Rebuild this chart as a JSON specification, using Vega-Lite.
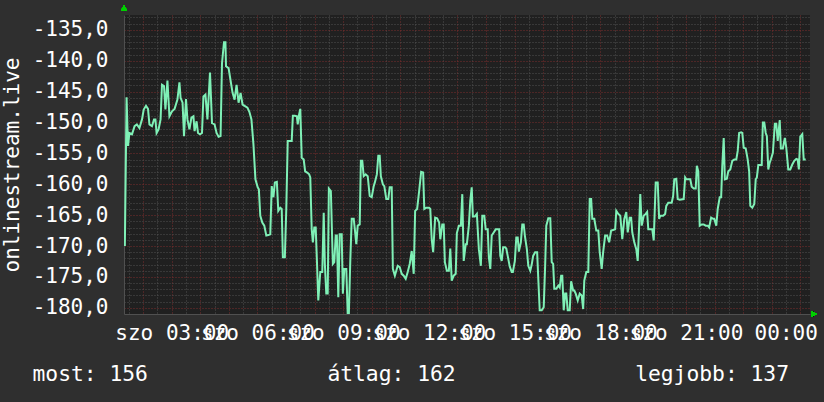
{
  "$schema": "https://vega.github.io/schema/vega-lite/v6.json",
  "width": 686,
  "height": 299,
  "autosize": "none",
  "padding": {"left": 124, "top": 15, "right": 14, "bottom": 88},
  "background": "#2f2f2f",
  "config": {
    "font": "DejaVu Sans Mono",
    "view": {"fill": "#202020", "stroke": null}
  },
  "resolve": {"axis": {"x": "independent", "y": "independent"}},
  "data": {"values": [
{"t":1.36,"v":-170.0},{"t":1.42,"v":-145.9},{"t":1.47,"v":-153.8},{"t":1.52,"v":-151.7},{"t":1.61,"v":-151.9},{"t":1.70,"v":-150.6},{"t":1.78,"v":-150.3},{"t":1.87,"v":-150.9},{"t":1.96,"v":-149.5},{"t":2.02,"v":-147.9},{"t":2.10,"v":-147.3},{"t":2.17,"v":-147.8},{"t":2.22,"v":-150.3},{"t":2.31,"v":-150.6},{"t":2.38,"v":-149.5},{"t":2.43,"v":-149.5},{"t":2.47,"v":-151.7},{"t":2.54,"v":-151.1},{"t":2.61,"v":-149.5},{"t":2.66,"v":-143.9},{"t":2.73,"v":-144.1},{"t":2.78,"v":-147.9},{"t":2.85,"v":-143.2},{"t":2.92,"v":-149.0},{"t":3.01,"v":-148.2},{"t":3.10,"v":-147.8},{"t":3.20,"v":-146.3},{"t":3.27,"v":-143.5},{"t":3.31,"v":-146.0},{"t":3.38,"v":-146.8},{"t":3.43,"v":-152.2},{"t":3.50,"v":-146.2},{"t":3.55,"v":-149.5},{"t":3.62,"v":-151.1},{"t":3.69,"v":-149.2},{"t":3.76,"v":-149.0},{"t":3.80,"v":-151.4},{"t":3.87,"v":-149.8},{"t":3.92,"v":-151.7},{"t":3.99,"v":-151.9},{"t":4.06,"v":-151.7},{"t":4.11,"v":-145.8},{"t":4.18,"v":-145.5},{"t":4.25,"v":-149.5},{"t":4.34,"v":-141.9},{"t":4.41,"v":-150.1},{"t":4.50,"v":-150.3},{"t":4.57,"v":-151.7},{"t":4.64,"v":-152.3},{"t":4.71,"v":-152.2},{"t":4.76,"v":-140.4},{"t":4.83,"v":-137.0},{"t":4.88,"v":-137.0},{"t":4.90,"v":-140.9},{"t":4.99,"v":-141.2},{"t":5.06,"v":-143.2},{"t":5.13,"v":-145.2},{"t":5.20,"v":-146.3},{"t":5.27,"v":-143.9},{"t":5.34,"v":-146.8},{"t":5.41,"v":-145.2},{"t":5.48,"v":-147.1},{"t":5.55,"v":-147.3},{"t":5.65,"v":-147.6},{"t":5.72,"v":-148.3},{"t":5.79,"v":-149.5},{"t":5.86,"v":-153.5},{"t":5.93,"v":-159.2},
{"t":6.01,"v":-160.5},{"t":6.05,"v":-160.8},{"t":6.10,"v":-165.1},{"t":6.17,"v":-166.2},{"t":6.24,"v":-166.7},{"t":6.31,"v":-168.3},{"t":6.38,"v":-168.2},{"t":6.45,"v":-168.1},{"t":6.50,"v":-160.3},{"t":6.56,"v":-162.1},{"t":6.61,"v":-159.7},{"t":6.68,"v":-159.6},{"t":6.73,"v":-164.3},{"t":6.80,"v":-163.8},{"t":6.85,"v":-164.0},{"t":6.89,"v":-171.8},{"t":6.96,"v":-171.8},{"t":7.01,"v":-164.0},{"t":7.06,"v":-153.0},{"t":7.13,"v":-153.0},{"t":7.20,"v":-153.0},{"t":7.24,"v":-148.9},{"t":7.31,"v":-148.9},{"t":7.38,"v":-149.0},{"t":7.41,"v":-150.3},{"t":7.45,"v":-148.9},{"t":7.50,"v":-147.8},{"t":7.55,"v":-155.7},{"t":7.62,"v":-156.0},{"t":7.67,"v":-157.9},{"t":7.74,"v":-158.1},{"t":7.81,"v":-158.4},{"t":7.85,"v":-158.9},{"t":7.90,"v":-167.3},{"t":7.94,"v":-169.4},{"t":7.99,"v":-167.0},{"t":8.04,"v":-167.0},{"t":8.08,"v":-172.1},{"t":8.13,"v":-178.8},{"t":8.20,"v":-174.2},{"t":8.27,"v":-174.2},{"t":8.32,"v":-164.6},{"t":8.36,"v":-172.9},{"t":8.41,"v":-177.7},{"t":8.46,"v":-177.7},{"t":8.50,"v":-160.7},{"t":8.57,"v":-161.1},{"t":8.64,"v":-172.9},{"t":8.69,"v":-172.6},{"t":8.74,"v":-168.3},{"t":8.78,"v":-168.3},{"t":8.83,"v":-178.3},{"t":8.88,"v":-168.1},{"t":8.95,"v":-168.1},{"t":8.99,"v":-177.7},{"t":9.04,"v":-173.7},{"t":9.11,"v":-173.7},{"t":9.16,"v":-181.0},{"t":9.20,"v":-181.0},{"t":9.25,"v":-172.4},{"t":9.30,"v":-165.6},{"t":9.37,"v":-165.6},{"t":9.41,"v":-167.3},{"t":9.46,"v":-169.7},{"t":9.51,"v":-166.7},{"t":9.58,"v":-166.5},{"t":9.62,"v":-156.2},{"t":9.67,"v":-156.2},{"t":9.72,"v":-158.7},{"t":9.79,"v":-158.4},{"t":9.86,"v":-158.7},{"t":9.93,"v":-161.9},{"t":10.00,"v":-162.1},{"t":10.07,"v":-160.3},{"t":10.11,"v":-159.7},{"t":10.18,"v":-158.4},{"t":10.23,"v":-155.4},{"t":10.28,"v":-155.4},{"t":10.32,"v":-158.7},{"t":10.39,"v":-160.0},{"t":10.44,"v":-160.3},{"t":10.51,"v":-162.4},{"t":10.58,"v":-162.4},{"t":10.63,"v":-160.5},{"t":10.70,"v":-160.5},{"t":10.74,"v":-173.7},
{"t":10.81,"v":-174.8},{"t":10.91,"v":-173.2},{"t":10.98,"v":-173.4},{"t":11.05,"v":-174.5},{"t":11.12,"v":-174.8},{"t":11.19,"v":-175.3},{"t":11.26,"v":-174.2},{"t":11.33,"v":-172.9},{"t":11.40,"v":-170.8},{"t":11.47,"v":-174.5},{"t":11.52,"v":-164.3},{"t":11.59,"v":-164.0},{"t":11.66,"v":-161.1},{"t":11.73,"v":-158.0},{"t":11.80,"v":-158.1},{"t":11.84,"v":-164.0},{"t":11.91,"v":-163.8},{"t":12.01,"v":-163.8},{"t":12.05,"v":-164.0},{"t":12.10,"v":-168.9},{"t":12.15,"v":-171.0},{"t":12.22,"v":-165.4},{"t":12.29,"v":-165.5},{"t":12.36,"v":-166.2},{"t":12.40,"v":-168.9},{"t":12.47,"v":-166.5},{"t":12.52,"v":-166.5},{"t":12.56,"v":-172.6},{"t":12.63,"v":-174.0},{"t":12.70,"v":-174.0},{"t":12.75,"v":-170.4},{"t":12.80,"v":-175.6},{"t":12.87,"v":-174.8},{"t":12.94,"v":-174.5},{"t":12.98,"v":-167.9},{"t":13.05,"v":-166.7},{"t":13.12,"v":-166.7},{"t":13.17,"v":-161.6},{"t":13.22,"v":-172.4},{"t":13.29,"v":-169.7},{"t":13.33,"v":-169.7},{"t":13.40,"v":-166.7},{"t":13.45,"v":-162.7},{"t":13.50,"v":-160.5},{"t":13.54,"v":-165.2},{"t":13.61,"v":-165.2},{"t":13.68,"v":-164.8},{"t":13.75,"v":-170.5},{"t":13.82,"v":-173.2},{"t":13.87,"v":-165.1},{"t":13.94,"v":-165.1},{"t":13.99,"v":-167.3},{"t":14.06,"v":-167.3},{"t":14.10,"v":-171.8},{"t":14.15,"v":-173.7},{"t":14.20,"v":-168.3},{"t":14.27,"v":-167.8},{"t":14.34,"v":-167.3},{"t":14.46,"v":-167.3},{"t":14.50,"v":-171.6},{"t":14.55,"v":-172.4},{"t":14.60,"v":-170.2},{"t":14.67,"v":-170.2},{"t":14.71,"v":-170.4},{"t":14.76,"v":-171.6},{"t":14.83,"v":-173.3},{"t":14.90,"v":-174.2},{"t":14.94,"v":-174.2},{"t":15.01,"v":-172.4},{"t":15.06,"v":-168.6},{"t":15.11,"v":-168.6},{"t":15.15,"v":-170.9},{"t":15.22,"v":-169.4},{"t":15.27,"v":-166.5},{"t":15.32,"v":-166.5},{"t":15.36,"v":-168.3},{"t":15.43,"v":-170.5},{"t":15.48,"v":-173.2},{"t":15.55,"v":-174.0},{"t":15.60,"v":-173.0},
{"t":15.65,"v":-171.6},{"t":15.72,"v":-171.0},{"t":15.79,"v":-171.0},{"t":15.83,"v":-175.3},{"t":15.88,"v":-180.4},{"t":15.95,"v":-180.4},{"t":16.02,"v":-179.9},{"t":16.07,"v":-173.2},{"t":16.11,"v":-166.7},{"t":16.18,"v":-165.5},{"t":16.25,"v":-165.5},{"t":16.30,"v":-172.6},{"t":16.35,"v":-172.9},{"t":16.39,"v":-176.9},{"t":16.46,"v":-176.9},{"t":16.53,"v":-176.4},{"t":16.58,"v":-176.7},{"t":16.63,"v":-174.8},{"t":16.67,"v":-174.8},{"t":16.72,"v":-180.4},{"t":16.77,"v":-177.7},{"t":16.81,"v":-177.7},{"t":16.86,"v":-180.4},{"t":16.93,"v":-180.4},{"t":16.98,"v":-175.7},{"t":17.05,"v":-177.2},{"t":17.09,"v":-177.2},{"t":17.14,"v":-177.7},{"t":17.21,"v":-178.8},{"t":17.28,"v":-177.7},{"t":17.35,"v":-178.0},{"t":17.40,"v":-180.2},{"t":17.44,"v":-175.6},{"t":17.51,"v":-174.2},{"t":17.58,"v":-174.2},{"t":17.63,"v":-162.4},{"t":17.68,"v":-162.4},{"t":17.72,"v":-165.6},{"t":17.79,"v":-165.6},{"t":17.86,"v":-167.5},{"t":17.93,"v":-167.5},{"t":17.98,"v":-171.0},{"t":18.05,"v":-173.7},{"t":18.10,"v":-171.0},{"t":18.17,"v":-168.3},{"t":18.24,"v":-168.3},{"t":18.31,"v":-169.4},{"t":18.38,"v":-167.5},{"t":18.45,"v":-167.4},{"t":18.52,"v":-167.3},{"t":18.56,"v":-164.3},{"t":18.63,"v":-164.8},{"t":18.70,"v":-165.1},{"t":18.77,"v":-168.9},{"t":18.84,"v":-165.6},{"t":18.91,"v":-164.5},{"t":18.96,"v":-167.8},{"t":19.03,"v":-165.4},{"t":19.08,"v":-165.4},{"t":19.12,"v":-167.8},{"t":19.19,"v":-169.4},{"t":19.26,"v":-170.5},{"t":19.31,"v":-172.4},{"t":19.36,"v":-166.7},{"t":19.40,"v":-161.6},{"t":19.45,"v":-166.7},{"t":19.52,"v":-165.1},{"t":19.59,"v":-164.8},{"t":19.64,"v":-164.5},{"t":19.68,"v":-167.3},{"t":19.75,"v":-167.3},{"t":19.82,"v":-167.3},{"t":19.87,"v":-169.1},{"t":19.94,"v":-159.7},{"t":20.01,"v":-159.7},{"t":20.06,"v":-165.6},{"t":20.10,"v":-165.1},{"t":20.20,"v":-165.1},{"t":20.27,"v":-164.8},{"t":20.31,"v":-163.5},{"t":20.38,"v":-163.0},
{"t":20.50,"v":-163.0},{"t":20.55,"v":-161.9},{"t":20.59,"v":-159.2},{"t":20.66,"v":-159.1},{"t":20.71,"v":-162.4},{"t":20.78,"v":-162.5},{"t":20.92,"v":-162.4},{"t":20.97,"v":-158.9},{"t":21.01,"v":-159.2},{"t":21.15,"v":-159.2},{"t":21.20,"v":-160.4},{"t":21.27,"v":-160.7},{"t":21.34,"v":-160.7},{"t":21.38,"v":-157.0},{"t":21.43,"v":-157.9},{"t":21.48,"v":-166.7},{"t":21.55,"v":-166.5},{"t":21.62,"v":-166.5},{"t":21.69,"v":-166.7},{"t":21.76,"v":-166.7},{"t":21.81,"v":-167.0},{"t":21.88,"v":-165.4},{"t":21.95,"v":-165.6},{"t":21.99,"v":-165.6},{"t":22.06,"v":-166.7},{"t":22.11,"v":-164.0},{"t":22.18,"v":-162.1},{"t":22.23,"v":-162.1},{"t":22.27,"v":-157.0},{"t":22.32,"v":-152.5},{"t":22.36,"v":-159.2},{"t":22.43,"v":-159.1},{"t":22.48,"v":-157.9},{"t":22.55,"v":-157.6},{"t":22.62,"v":-156.2},{"t":22.69,"v":-156.0},{"t":22.76,"v":-156.0},{"t":22.81,"v":-154.6},{"t":22.86,"v":-151.7},{"t":22.93,"v":-151.6},{"t":22.97,"v":-151.7},{"t":23.02,"v":-154.1},{"t":23.09,"v":-154.2},{"t":23.16,"v":-156.0},{"t":23.21,"v":-157.9},{"t":23.25,"v":-163.5},{"t":23.32,"v":-163.8},{"t":23.39,"v":-163.2},{"t":23.44,"v":-159.2},{"t":23.48,"v":-158.9},{"t":23.53,"v":-156.9},{"t":23.65,"v":-156.9},{"t":23.69,"v":-150.0},{"t":23.74,"v":-150.0},{"t":23.79,"v":-151.7},{"t":23.83,"v":-152.2},{"t":23.88,"v":-157.6},{"t":23.93,"v":-156.5},{"t":23.97,"v":-156.0},{"t":24.04,"v":-154.9},{"t":24.11,"v":-150.2},{"t":24.16,"v":-150.2},{"t":24.21,"v":-153.0},{"t":24.28,"v":-149.6},{"t":24.32,"v":-154.2},{"t":24.39,"v":-154.2},{"t":24.46,"v":-152.5},{"t":24.51,"v":-154.1},{"t":24.58,"v":-157.6},{"t":24.65,"v":-157.6},{"t":24.72,"v":-156.8},{"t":24.79,"v":-156.2},{"t":24.86,"v":-155.9},{"t":24.91,"v":-156.0},{"t":24.95,"v":-157.6},{"t":25.00,"v":-152.3},{"t":25.07,"v":-151.9},{"t":25.12,"v":-156.0},{"t":25.19,"v":-156.0}
  ]},
  "layer": [
    {
      "mark": {"type": "line", "color": "#7ff0b6", "strokeWidth": 2, "clip": true, "strokeJoin": "miter"},
      "encoding": {
        "x": {
          "field": "t", "type": "quantitative",
          "scale": {"domain": [1.33, 25.34], "nice": false, "zero": false},
          "axis": {
            "values": [1.5,2,2.5,3,3.5,4,4.5,5,5.5,6,6.5,7,7.5,8,8.5,9,9.5,10,10.5,11,11.5,12,12.5,13,13.5,14,14.5,15,15.5,16,16.5,17,17.5,18,18.5,19,19.5,20,20.5,21,21.5,22,22.5,23,23.5,24,24.5,25],
            "labelExpr": "datum.value % 3 === 0 ? (datum.value < 24 ? 'szo ' + (datum.value < 10 ? '0' : '') + datum.value + ':00' : '00:00') : ''",
            "labelOverlap": false, "labelBound": false, "labelFlush": false,
            "labelFontSize": 21, "labelColor": "#ffffff", "labelBaseline": "alphabetic", "labelPadding": 25,
            "labelOffset": {"condition": {"test": "datum.value === 24", "value": 14}, "value": 0},
            "ticks": false,
            "domain": true, "domainColor": "#505050", "domainWidth": 1,
            "grid": true, "gridDash": [1, 2], "gridWidth": 1,
            "gridColor": {"condition": {"test": "datum.value % 1 === 0", "value": "#7a2c2c"}, "value": "#505050"},
            "title": "most: 156\u00a0\u00a0\u00a0\u00a0\u00a0\u00a0\u00a0\u00a0\u00a0\u00a0\u00a0\u00a0\u00a0\u00a0átlag: 162\u00a0\u00a0\u00a0\u00a0\u00a0\u00a0\u00a0\u00a0\u00a0\u00a0\u00a0\u00a0\u00a0\u00a0legjobb: 137",
            "titleFontSize": 21.3, "titleFontWeight": "normal", "titleColor": "#ffffff",
            "titleAlign": "left", "titleAnchor": "start", "titleBaseline": "alphabetic",
            "titleX": -92, "titleY": 66
          }
        },
        "y": {
          "field": "v", "type": "quantitative",
          "scale": {"domain": [-181, -132.6], "nice": false, "zero": false},
          "axis": {
            "values": [-180,-179,-178,-177,-176,-175,-174,-173,-172,-171,-170,-169,-168,-167,-166,-165,-164,-163,-162,-161,-160,-159,-158,-157,-156,-155,-154,-153,-152,-151,-150,-149,-148,-147,-146,-145,-144,-143,-142,-141,-140,-139,-138,-137,-136,-135,-134,-133],
            "labelExpr": "datum.value % 5 === 0 ? '-' + replace(format(-datum.value, '.1f'), '.', ',') : ''",
            "labelOverlap": false, "labelBound": false, "labelFlush": false,
            "labelFontSize": 21, "labelColor": "#ffffff", "labelPadding": 16, "labelBaseline": "middle",
            "ticks": false,
            "domain": true, "domainColor": "#505050", "domainWidth": 1,
            "grid": true, "gridDash": [1, 2], "gridWidth": 1,
            "gridColor": {"condition": {"test": "datum.value % 5 === 0", "value": "#7a2c2c"}, "value": "#505050"},
            "title": "onlinestream.live",
            "titleFontSize": 21, "titleFontWeight": "normal", "titleColor": "#ffffff",
            "titleAngle": -90, "titleAlign": "center", "titleBaseline": "alphabetic",
            "titleX": -106, "titleY": 149.5
          }
        }
      }
    },
    {
      "mark": {"type": "point", "shape": "triangle-up", "filled": true, "color": "#00d000", "size": 36, "opacity": 1, "yOffset": -7, "clip": false},
      "encoding": {"x": {"datum": 1.33, "type": "quantitative", "axis": null}, "y": {"datum": -132.6, "type": "quantitative", "axis": null}}
    },
    {
      "mark": {"type": "point", "shape": "triangle-right", "filled": true, "color": "#00d000", "size": 36, "opacity": 1, "xOffset": 4, "clip": false},
      "encoding": {"x": {"datum": 25.34, "type": "quantitative", "axis": null}, "y": {"datum": -181, "type": "quantitative", "axis": null}}
    }
  ]
}
